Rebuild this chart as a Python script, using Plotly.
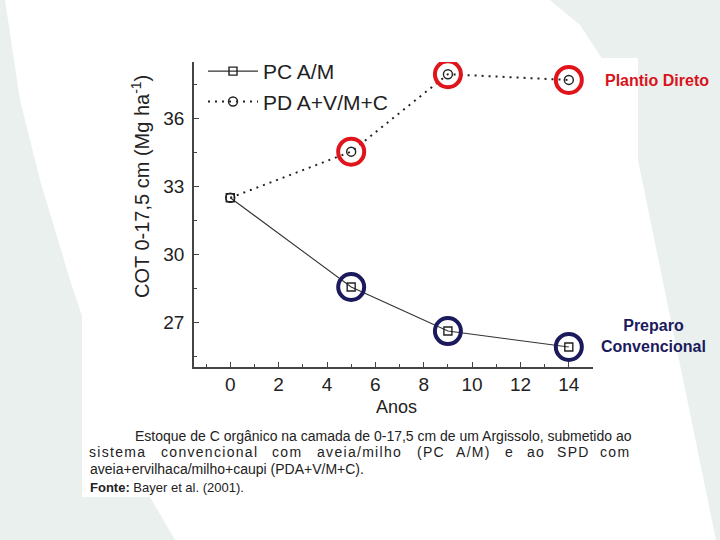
import plotly.graph_objects as go

# ---- data ----
anos = [0, 5, 9, 14]
pc_am = [32.5, 28.57, 26.63, 25.93]          # PC A/M (preparo convencional)
pd_avmc = [32.5, 34.53, 37.94, 37.69]        # PD A+V/M+C (plantio direto)
x_ticks = [0, 2, 4, 6, 8, 10, 12, 14]
y_ticks = [27, 30, 33, 36]
y_minor = [25.5, 28.5, 31.5, 34.5, 37.5]
x_minor = [-1, 1, 3, 5, 7, 9, 11, 13, 15]

W, H = 720, 540
FONT = "Liberation Sans, Arial, sans-serif"


def px(x):
    return x / W


def py(y):
    return 1 - y / H


def path(points):
    s = "M " + " L ".join(f"{px(a):.5f},{py(b):.5f}" for a, b in points) + " Z"
    return s


fig = go.Figure()

fig.add_trace(go.Scatter(
    x=anos, y=pc_am, mode="lines+markers", name="PC A/M",
    line=dict(color="#333333", width=1.1),
    marker=dict(symbol="square-open", size=8, color="#222222", line=dict(width=1.4, color="#222222")),
))
fig.add_trace(go.Scatter(
    x=anos, y=pd_avmc, mode="lines+markers", name="PD A+V/M+C",
    line=dict(color="#222222", width=2, dash="2px,5px"),
    marker=dict(symbol="circle-open", size=9, color="#222222", line=dict(width=1.4, color="#222222")),
))
# highlight rings
fig.add_trace(go.Scatter(
    x=anos[1:], y=pd_avmc[1:], mode="markers", showlegend=False, hoverinfo="skip",
    marker=dict(symbol="circle-open", size=26, color="#e0141b", line=dict(width=4, color="#e0141b")),
))
fig.add_trace(go.Scatter(
    x=anos[1:], y=pc_am[1:], mode="markers", showlegend=False, hoverinfo="skip",
    marker=dict(symbol="circle-open", size=26, color="#1b1a5c", line=dict(width=4, color="#1b1a5c")),
))

# background shapes (slide decoration + white image area)
gray = "#e9f0ee"
left_pts = [(0, 0), (5, 0), (20, 100), (40, 180), (70, 280), (110, 400), (140, 480), (175, 540), (0, 540)]
right_pts = [(550, 0), (580, 25), (603, 60), (625, 110), (638, 160), (716, 540), (720, 540), (720, 0)]
shapes = [
    dict(type="path", path=path(left_pts), xref="paper", yref="paper", fillcolor=gray, line=dict(width=0), layer="below"),
    dict(type="path", path=path(right_pts), xref="paper", yref="paper", fillcolor=gray, line=dict(width=0), layer="below"),
    dict(type="rect", x0=px(82), x1=px(638), y0=py(497), y1=py(58), xref="paper", yref="paper",
         fillcolor="white", line=dict(width=0), layer="below"),
]

ann = []
ann.append(dict(text="COT 0-17,5 cm (Mg ha<sup>-1</sup>)", x=px(140), y=py(187), textangle=-90,
                font=dict(family=FONT, size=20, color="#222222")))
ann.append(dict(text="Anos", x=px(396), y=py(407), font=dict(family=FONT, size=18, color="#222222")))
ann.append(dict(text="<b>Plantio Direto</b>", x=px(657), y=py(80), font=dict(family=FONT, size=16, color="#d9141b")))
ann.append(dict(text="<b>Preparo<br>Convencional</b>", x=px(653), y=py(336), align="center",
                font=dict(family=FONT, size=16, color="#1b1a5c")))
cap_font = dict(family=FONT, size=14, color="#222222")
ann.append(dict(text="Estoque de C orgânico na camada de 0-17,5 cm de um Argissolo, submetido ao",
                x=px(133), y=py(436), xanchor="left", font=cap_font))
line2 = [("sistema", 88, 146), ("convencional", 160, 259), ("com", 272, 301), ("aveia/milho", 316, 403),
         ("(PC", 416, 445), ("A/M)", 457, 490), ("e", 505, 513), ("ao", 527, 544), ("SPD", 558, 589),
         ("com", 597, 633)]
for w, a, b in line2:
    ann.append(dict(text=f'<span style="letter-spacing:1.3px">{w}</span>', x=px((a + b) / 2), y=py(452),
                    xanchor="center", font=cap_font))
ann.append(dict(text="aveia+ervilhaca/milho+caupi (PDA+V/M+C).", x=px(88), y=py(469), xanchor="left", font=cap_font))
ann.append(dict(text="<b>Fonte:</b> Bayer et al. (2001).", x=px(88), y=py(487), xanchor="left",
                font=dict(family=FONT, size=13, color="#222222")))
for a in ann:
    a.setdefault("xref", "paper")
    a.setdefault("yref", "paper")
    a.setdefault("xanchor", "center")
    a.setdefault("yanchor", "middle")
    a["showarrow"] = False

fig.update_layout(
    width=W, height=H, margin=dict(l=0, r=0, t=0, b=0),
    paper_bgcolor="white", plot_bgcolor="rgba(0,0,0,0)",
    shapes=shapes, annotations=ann,
    showlegend=True,
    legend=dict(x=px(203), y=py(51), xanchor="left", yanchor="top", bgcolor="rgba(0,0,0,0)",
                font=dict(family=FONT, size=21, color="#222222"), itemwidth=50, tracegroupgap=0),
    xaxis=dict(domain=[px(194), px(593)], range=[-1.5, 15], tickmode="array", tickvals=x_ticks,
               ticks="inside", ticklen=5, tickwidth=1.3, tickcolor="#444444",
               showline=True, linecolor="#444444", linewidth=1.5, showgrid=False, zeroline=False,
               tickfont=dict(family=FONT, size=19, color="#222222"), ticklabelstandoff=0,
               minor=dict(tickmode="array", tickvals=x_minor, ticks="inside", ticklen=3, tickwidth=1.2,
                          tickcolor="#444444", showgrid=False)),
    yaxis=dict(domain=[py(366.7), py(62)], range=[25.06, 38.48], tickmode="array", tickvals=y_ticks,
               ticks="inside", ticklen=5, tickwidth=1.3, tickcolor="#444444",
               showline=True, linecolor="#444444", linewidth=1.5, showgrid=False, zeroline=False,
               tickfont=dict(family=FONT, size=19, color="#222222"), ticklabelstandoff=4,
               minor=dict(tickmode="array", tickvals=y_minor, ticks="inside", ticklen=3, tickwidth=1.2,
                          tickcolor="#444444", showgrid=False)),
)

fig.write_html("out.html")
